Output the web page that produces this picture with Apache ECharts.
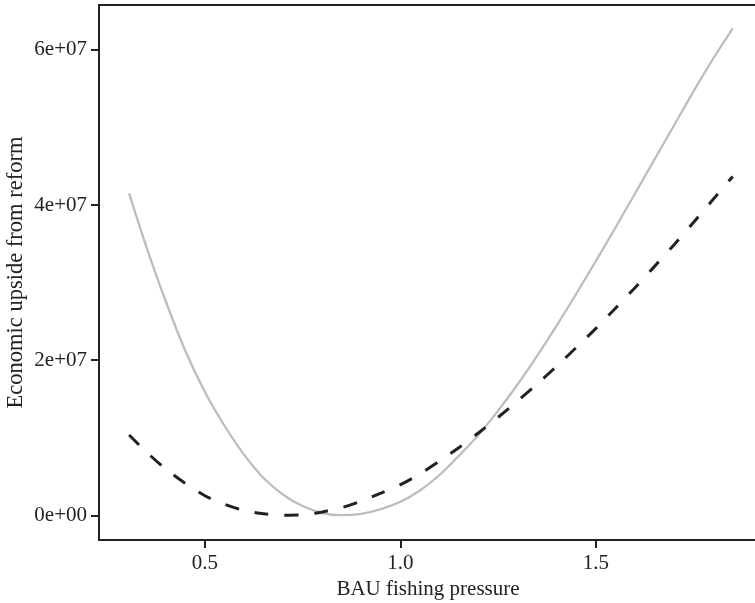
<!DOCTYPE html>
<html>
<head>
<meta charset="utf-8">
<script src="https://cdn.jsdelivr.net/npm/echarts@6/dist/echarts.min.js"></script>
<style>
html,body{margin:0;padding:0;background:#fff;}
#chart{width:755px;height:603px;}
</style>
</head>
<body>
<div id="chart"></div>
<script>
// BAU fishing pressure values
const fishingPressure = [0.306,0.35,0.40,0.45,0.50,0.55,0.60,0.65,0.70,0.75,0.80,0.85,0.90,0.95,1.00,1.05,1.10,1.15,1.20,1.25,1.30,1.35,1.40,1.45,1.50,1.55,1.60,1.65,1.70,1.75,1.80,1.85];
// Grey solid curve (units of 1e7)
const solidUpside = [4.152,3.466,2.757,2.119,1.590,1.155,0.783,0.481,0.266,0.120,0.030,0.002,0.020,0.080,0.175,0.320,0.520,0.770,1.040,1.350,1.690,2.060,2.450,2.860,3.280,3.710,4.150,4.590,5.030,5.470,5.890,6.280];
// Black dashed curve (units of 1e7)
const dashedUpside = [1.035,0.818,0.596,0.411,0.253,0.142,0.063,0.019,0.002,0.006,0.044,0.100,0.185,0.285,0.395,0.535,0.700,0.875,1.065,1.265,1.475,1.695,1.925,2.165,2.410,2.670,2.935,3.210,3.490,3.780,4.075,4.370];
const scale = 1e7;
// Tick values and labels
const xTicks = [0.5, 1.0, 1.5];
const xTickLabels = ['0.5', '1.0', '1.5'];
const yTicks = [0, 2e7, 4e7, 6e7];
const yTickLabels = ['0e+00', '2e+07', '4e+07', '6e+07'];

const solidData = fishingPressure.map((x, i) => [x, solidUpside[i] * scale]);
const dashedData = fishingPressure.map((x, i) => [x, dashedUpside[i] * scale]);

const FONT = '"Liberation Serif", "Times New Roman", serif';
const ink = '#222222';

const chart = echarts.init(document.getElementById('chart'), null, {renderer: 'canvas'});
chart.setOption({
  animation: false,
  backgroundColor: '#ffffff',
  grid: {
    left: 99, top: 5, right: -2, bottom: 63,
    outerBoundsMode: 'none',
    containLabel: false,
    show: true, borderColor: ink, borderWidth: 2, backgroundColor: 'transparent'
  },
  xAxis: {
    type: 'value',
    min: 0.229, max: 1.912,
    name: 'BAU fishing pressure',
    nameLocation: 'middle',
    nameGap: 39,
    nameMoveOverlap: false,
    nameTextStyle: {fontFamily: FONT, fontSize: 21, color: ink},
    splitLine: {show: false},
    axisLine: {show: true, onZero: false, lineStyle: {color: ink, width: 2}},
    axisTick: {show: true, length: 8, inside: false, customValues: xTicks, lineStyle: {color: ink, width: 2}},
    axisLabel: {
      show: true, margin: 13, customValues: xTicks,
      fontFamily: FONT, fontSize: 21, color: ink,
      formatter: v => { const i = xTicks.findIndex(t => Math.abs(t - v) < 1e-9); return i >= 0 ? xTickLabels[i] : ''; }
    }
  },
  yAxis: {
    type: 'value',
    min: -3.18e6, max: 6.58e7,
    name: 'Economic upside from reform',
    nameLocation: 'middle',
    nameGap: 71,
    nameMoveOverlap: false,
    nameRotate: 90,
    nameTextStyle: {fontFamily: FONT, fontSize: 22.5, color: ink},
    splitLine: {show: false},
    axisLine: {show: true, onZero: false, lineStyle: {color: ink, width: 2}},
    axisTick: {show: true, length: 8, inside: false, customValues: yTicks, lineStyle: {color: ink, width: 2}},
    axisLabel: {
      show: true, margin: 12, customValues: yTicks,
      fontFamily: FONT, fontSize: 21, color: ink,
      formatter: v => { const i = yTicks.findIndex(t => Math.abs(t - v) < 1); return i >= 0 ? yTickLabels[i] : ''; }
    }
  },
  series: [
    {
      type: 'line', name: 'solid', data: solidData, smooth: 0.3, showSymbol: false,
      lineStyle: {color: '#bdbdbd', width: 2.3}, z: 2
    },
    {
      type: 'line', name: 'dashed', data: dashedData, smooth: 0.3, showSymbol: false,
      lineStyle: {color: ink, width: 3, type: [14, 16], cap: 'butt'}, z: 3
    }
  ]
});
</script>
</body>
</html>
